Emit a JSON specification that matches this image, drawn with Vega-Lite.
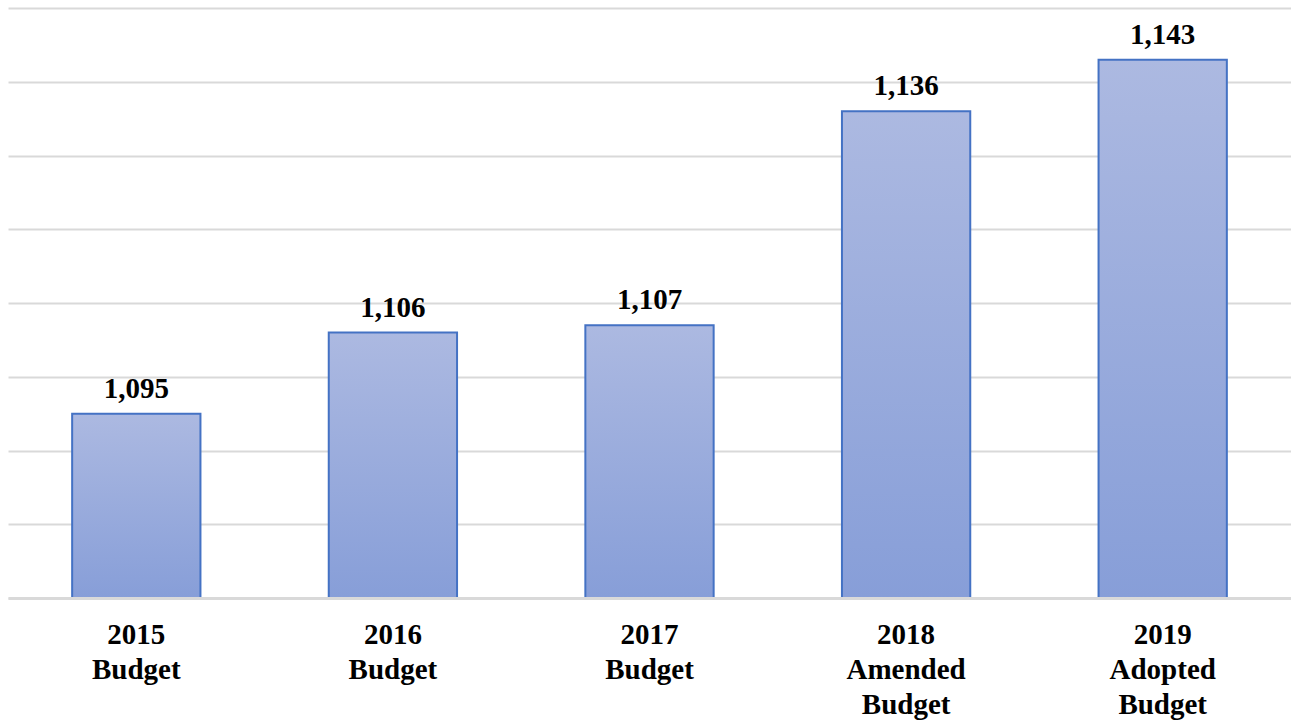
{
  "$schema": "https://vega.github.io/schema/vega-lite/v6.json",
  "width": 1283,
  "height": 590,
  "autosize": "none",
  "padding": {"left": 8, "top": 8, "right": 0, "bottom": 127},
  "background": "white",
  "config": {"view": {"stroke": null}},
  "data": {
    "values": [
      {"category": "2015|Budget", "value": 1095},
      {"category": "2016|Budget", "value": 1106},
      {"category": "2017|Budget", "value": 1107},
      {"category": "2018|Amended|Budget", "value": 1136},
      {"category": "2019|Adopted|Budget", "value": 1143}
    ]
  },
  "encoding": {
    "x": {
      "field": "category",
      "type": "nominal",
      "sort": null,
      "scale": {"paddingInner": 0.5, "paddingOuter": 0.25},
      "axis": {
        "title": null,
        "labelAngle": 0,
        "labelExpr": "split(datum.value, '|')",
        "labelFont": "Liberation Serif",
        "labelFontWeight": "bold",
        "labelFontSize": 29,
        "labelColor": "#000000",
        "labelLineHeight": 35,
        "labelPadding": 22,
        "labelBaseline": "top",
        "ticks": false,
        "domainColor": "#d9d9d9",
        "domainWidth": 3,
        "zindex": 1
      }
    },
    "y": {
      "field": "value",
      "type": "quantitative",
      "scale": {"domain": [1070, 1150], "zero": false, "nice": false},
      "axis": {
        "title": null,
        "labels": false,
        "ticks": false,
        "domain": false,
        "values": [1070, 1080, 1090, 1100, 1110, 1120, 1130, 1140, 1150],
        "gridColor": "#d9d9d9",
        "gridWidth": 2
      }
    }
  },
  "layer": [
    {
      "mark": {
        "type": "bar",
        "stroke": "#4472c4",
        "strokeWidth": 2,
        "color": {
          "gradient": "linear",
          "x1": 0, "y1": 0, "x2": 0, "y2": 1,
          "stops": [
            {"offset": 0, "color": "#acb9e1"},
            {"offset": 1, "color": "#879ed8"}
          ]
        }
      },
      "encoding": {
        "y2": {"datum": 1070}
      }
    },
    {
      "mark": {
        "type": "text",
        "baseline": "alphabetic",
        "dy": -16,
        "font": "Liberation Serif",
        "fontWeight": "bold",
        "fontSize": 29,
        "color": "#000000"
      },
      "encoding": {
        "text": {"field": "value", "type": "quantitative", "format": ","}
      }
    }
  ]
}
